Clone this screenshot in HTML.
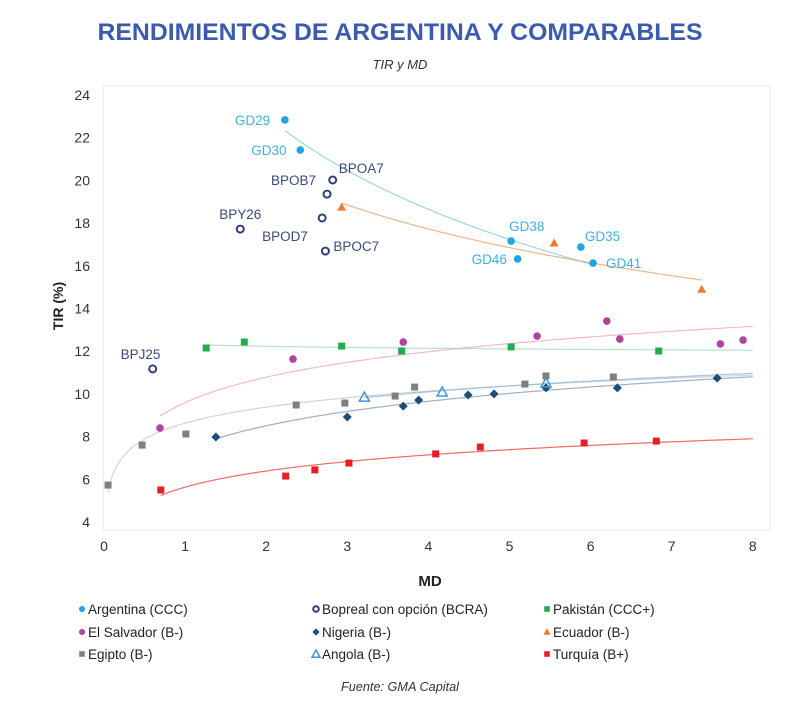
<!DOCTYPE html>
<html><head><meta charset="utf-8"><style>
body{margin:0;background:#fff;width:800px;height:703px;overflow:hidden;font-family:"Liberation Sans",sans-serif}
svg{display:block}
</style></head><body>
<svg id="chart" width="800" height="703">
<text x="400" y="40" text-anchor="middle" font-size="24" font-weight="bold" fill="#3a5bb0" textLength="605" lengthAdjust="spacingAndGlyphs">RENDIMIENTOS DE ARGENTINA Y COMPARABLES</text>
<text x="400" y="69" text-anchor="middle" font-size="13" font-style="italic" fill="#333">TIR y MD</text>
<rect x="103" y="86" width="667" height="444" fill="none" stroke="#f0f0f0" stroke-width="1.5"/>
<g id="axes"></g><g id="fits"></g><g id="marks"></g><g id="labels"></g>
<text x="63" y="306" transform="rotate(-90 63 306)" text-anchor="middle" font-size="14" font-weight="bold" fill="#222">TIR (%)</text>
<text x="430" y="586" text-anchor="middle" font-size="15" font-weight="bold" fill="#222">MD</text>
<g id="legend"></g>
<text x="400" y="691" text-anchor="middle" font-size="12.5" font-style="italic" fill="#333" textLength="118" lengthAdjust="spacingAndGlyphs">Fuente: GMA Capital</text>
</svg>
<script>
const xTicks=[0,1,2,3,4,5,6,7,8];
const yTicks=[4,6,8,10,12,14,16,18,20,22,24];
const argX=[2.23,2.42,5.02,5.10,5.88,6.03];
const argY=[22.83,21.42,17.16,16.32,16.88,16.13];
const argLabels=["GD29","GD30","GD38","GD46","GD35","GD41"];
const bopX=[2.82,2.75,1.68,2.69,2.73,0.60];
const bopY=[20.02,19.36,17.72,18.24,16.69,11.17];
const bopLabels=["BPOA7","BPOB7","BPY26","BPOD7","BPOC7","BPJ25"];
const pakX=[1.26,1.73,2.93,3.67,5.02,6.84];
const pakY=[12.15,12.43,12.24,12.01,12.2,12.01];
const salX=[0.69,2.33,3.69,5.34,6.2,6.36,7.6,7.88];
const salY=[8.4,11.63,12.43,12.71,13.41,12.57,12.34,12.52];
const nigX=[1.38,3.0,3.69,3.88,4.49,4.81,5.45,6.33,7.56];
const nigY=[7.98,8.92,9.43,9.71,9.95,10.0,10.28,10.28,10.74];
const ecuX=[2.93,5.55,7.37];
const ecuY=[18.75,17.07,14.9];
const egyX=[0.05,0.47,1.01,2.37,2.97,3.59,3.83,5.19,5.45,6.28];
const egyY=[5.73,7.6,8.12,9.48,9.57,9.9,10.32,10.46,10.84,10.79];
const angX=[3.21,4.17,5.45];
const angY=[9.85,10.09,10.51];
const turX=[0.7,2.24,2.6,3.02,4.09,4.64,5.92,6.81];
const turY=[5.5,6.15,6.44,6.76,7.19,7.51,7.7,7.79];

const NS="http://www.w3.org/2000/svg";
const sx=v=>104+v*81.1, sy=v=>522-(v-4)*21.35;
function mk(tag,attrs,parent){const e=document.createElementNS(NS,tag);for(const k in attrs)e.setAttribute(k,attrs[k]);document.getElementById(parent).appendChild(e);return e;}
xTicks.forEach(t=>{const e=mk('text',{x:sx(t),y:551,'text-anchor':'middle','font-size':14,fill:'#333'},'axes');e.textContent=t;

});
yTicks.forEach(t=>{const e=mk('text',{x:90,y:sy(t)+5,'text-anchor':'end','font-size':14,fill:'#333'},'axes');e.textContent=t;

});
function logfit(X,Y,x0,x1,color,name){const n=X.length;let sl=0,sy2=0,sll=0,sly=0;for(let i=0;i<n;i++){const l=Math.log(X[i]);sl+=l;sy2+=Y[i];sll+=l*l;sly+=l*Y[i];}
const b=(n*sly-sl*sy2)/(n*sll-sl*sl),a=(sy2-b*sl)/n;let d='';const N=200;
for(let i=0;i<=N;i++){const x=Math.exp(Math.log(x0)+(Math.log(x1)-Math.log(x0))*Math.pow(i/N,1));d+=(i?'L':'M')+sx(x).toFixed(1)+','+sy(a+b*Math.log(x)).toFixed(1);}
const p=mk('path',{d:d,fill:'none',stroke:color,'stroke-width':1.2,opacity:0.8},'fits');

}
logfit(argX,argY,2.23,6.03,'#7fcde8','argentina-trendline');
logfit(ecuX,ecuY,2.93,7.37,'#f0a070','ecuador-trendline');
logfit(pakX,pakY,1.26,8,'#a8d8b8','pakistan-trendline');
logfit(salX,salY,0.69,8,'#f0a8b8','el-salvador-trendline');
logfit(egyX,egyY,0.05,8,'#c8c8d0','egipto-trendline');
logfit(nigX,nigY,1.38,8,'#8898c0','nigeria-trendline');
logfit(angX,angY,3.21,8,'#90b8d8','angola-trendline');
logfit(turX,turY,0.7,8,'#ee4444','turquia-trendline');
function marker(shape,color,x,y,parent,s){let e;s=s||1;
if(shape==='circle')e=mk('circle',{cx:x,cy:y,r:3.8*s,fill:color},parent);
else if(shape==='ring')e=mk('circle',{cx:x,cy:y,r:3.5*s,fill:'none',stroke:color,'stroke-width':2},parent);
else if(shape==='square')e=mk('rect',{x:x-3.5*s,y:y-3.5*s,width:7*s,height:7*s,fill:color},parent);
else if(shape==='diamond')e=mk('path',{d:`M${x},${y-4.5*s}L${x+4.5*s},${y}L${x},${y+4.5*s}L${x-4.5*s},${y}Z`,fill:color},parent);
else if(shape==='tri')e=mk('path',{d:`M${x},${y-4.5*s}L${x+4.5*s},${y+3.5*s}L${x-4.5*s},${y+3.5*s}Z`,fill:color},parent);
else e=mk('path',{d:`M${x},${y-5*s}L${x+5*s},${y+4*s}L${x-5*s},${y+4*s}Z`,fill:'none',stroke:color,'stroke-width':1.5},parent);
return e;}
const series=[[argX,argY,'circle','#1ea6e0','argentina-point'],[bopX,bopY,'ring','#2e3f7a','bopreal-point'],[pakX,pakY,'square','#1fae4b','pakistan-point'],[salX,salY,'circle','#b0449c','el-salvador-point'],[nigX,nigY,'diamond','#1b4d75','nigeria-point'],[ecuX,ecuY,'tri','#ee7a2a','ecuador-point'],[egyX,egyY,'square','#808080','egipto-point'],[angX,angY,'otri','#3a9ad6','angola-point'],[turX,turY,'square','#e81e24','turquia-point']];
series.forEach(([X,Y,sh,c,nm])=>X.forEach((x,i)=>{const e=marker(sh,c,sx(x),sy(Y[i]),'marks');

}));
const argOff=[[-50,5],[-49,5],[-2,-10],[-46,5],[4,-6],[13,5]];
const bopOff=[[6,-7],[-56,-9],[-21,-10],[-60,23],[8,0],[-32,-10]];
argX.forEach((x,i)=>{const e=mk('text',{x:sx(x)+argOff[i][0],y:sy(argY[i])+argOff[i][1],'font-size':13.5,fill:'#3cb3e6'},'labels');e.textContent=argLabels[i];

});
bopX.forEach((x,i)=>{const e=mk('text',{x:sx(x)+bopOff[i][0],y:sy(bopY[i])+bopOff[i][1],'font-size':13.5,fill:'#3a4a80'},'labels');e.textContent=bopLabels[i];

});
const legNames=["Argentina (CCC)","Bopreal con opción (BCRA)","Pakistán (CCC+)","El Salvador (B-)","Nigeria (B-)","Ecuador (B-)","Egipto (B-)","Angola (B-)","Turquía (B+)"];
const colX=[82,316,547],rowY=[609,632,654];
series.forEach((s,i)=>{const cx=colX[i%3],cy=rowY[Math.floor(i/3)];const m=marker(s[2],s[3],cx,cy,'legend',0.8);


const t=mk('text',{x:cx+6,y:cy+5,'font-size':13.5,fill:'#222'},'legend');t.textContent=legNames[i];

});
</script>
</body></html>
